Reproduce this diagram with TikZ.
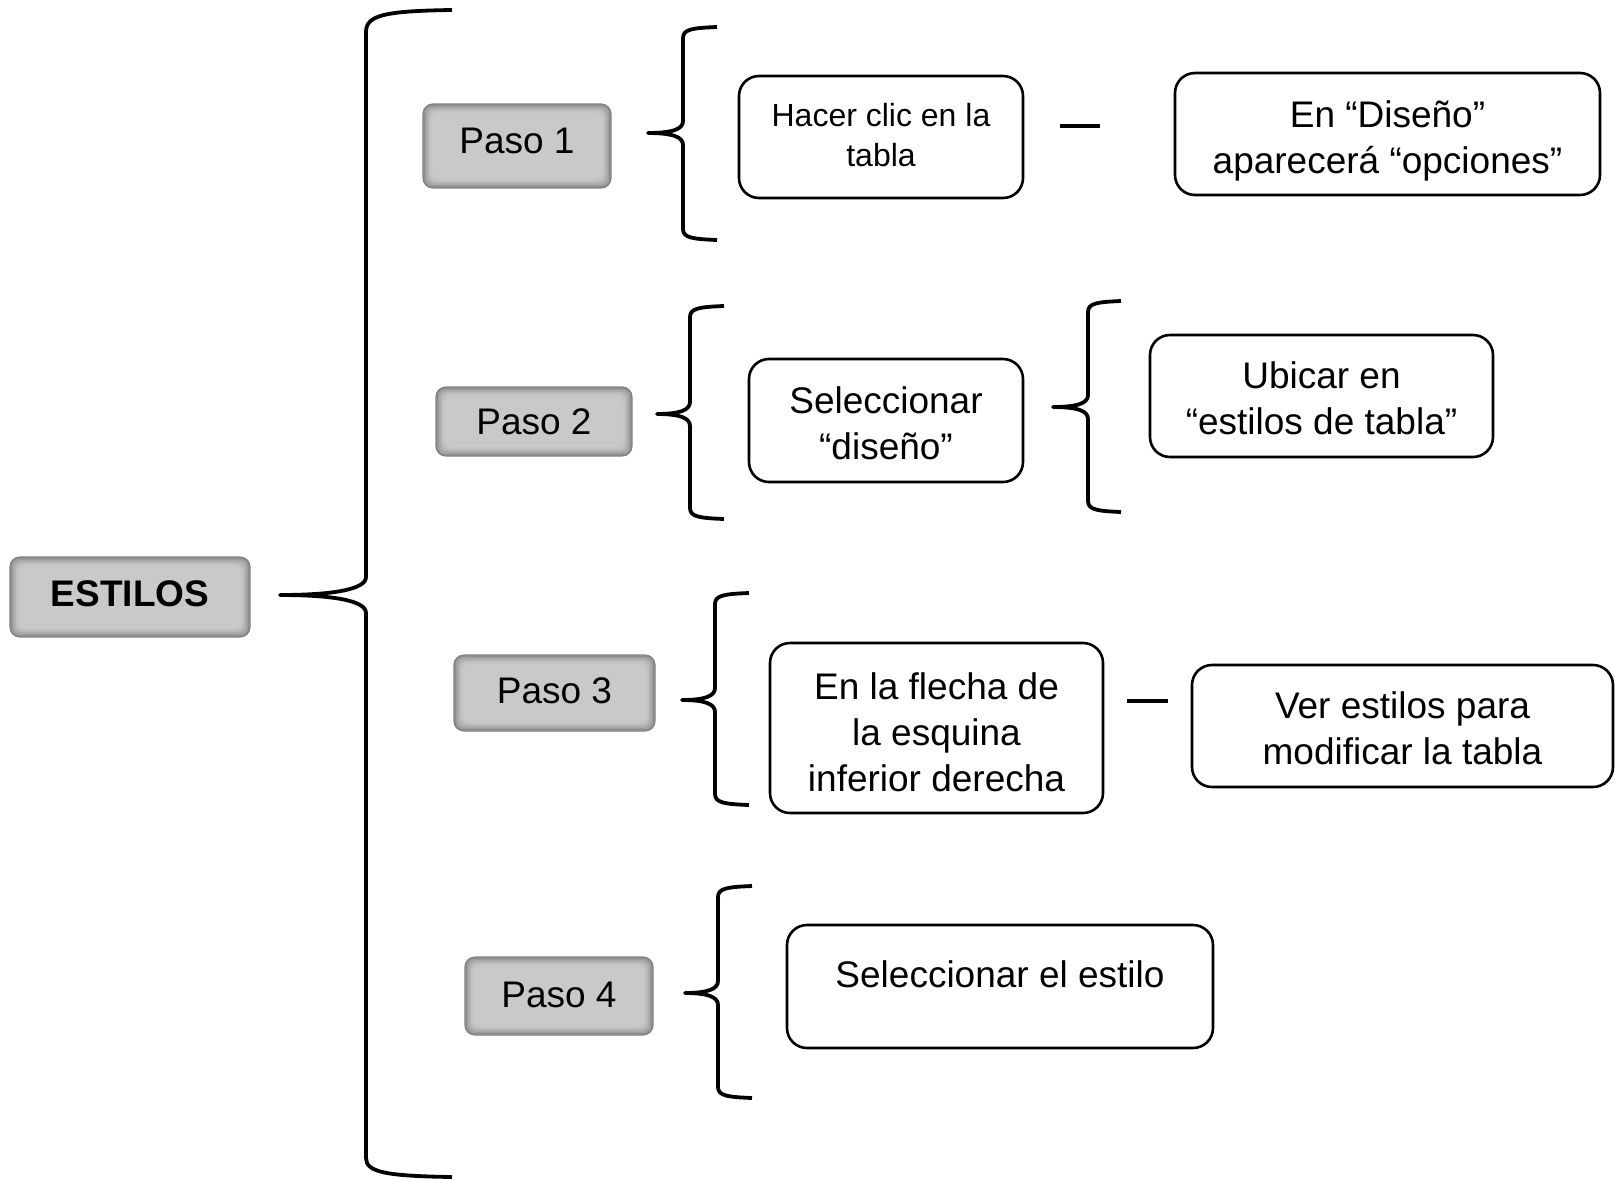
\documentclass[tikz,border=0pt]{standalone}
\usepackage{fontspec}
\setmainfont{Liberation Sans}
\definecolor{boxgray}{HTML}{C9C9C9}
\definecolor{edgegray}{HTML}{808080}
\newcommand{\drawbrace}[6]{% #1 tipx, #2 tipy, #3 vx, #4 top, #5 bottom, #6 endx
  \draw[bracestyle] (#6,#4) .. controls ({#3+10},{#4+1}) and (#3,{#4+2}) .. (#3,{#4+11})
    -- (#3,{#2-12}) .. controls (#3,{#2-4}) and ({#3-10},#2) .. (#1,#2)
    .. controls ({#3-10},#2) and (#3,{#2+4}) .. (#3,{#2+12})
    -- (#3,{#5-11}) .. controls (#3,{#5-2}) and ({#3+10},{#5-1}) .. (#6,#5);}
\newcommand{\shiftedtext}[2]{\raisebox{#1}[\height][\depth]{\begin{tabular}{@{}c@{}}#2\end{tabular}}}
\tikzset{
  pasobox/.style={rectangle, rounded corners=10pt, fill=boxgray, draw=edgegray,
    line width=1.2pt, inner sep=0pt, font=\fontsize{37}{46}\selectfont,
    path picture={
      \foreach \i/\p in {1.2/70,2.6/77,4/84,5.4/90,6.8/95,8.2/98}{
        \draw[draw=boxgray!\p!black, line width=1.6pt, rounded corners=8pt]
          ([shift={(\i pt,-\i pt)}]path picture bounding box.north west) rectangle
          ([shift={(-\i pt,\i pt)}]path picture bounding box.south east);}}},
  whitebox/.style={rectangle, rounded corners=20pt, draw=black, line width=2.6pt,
    fill=white, inner sep=0pt, align=center, font=\fontsize{37}{46}\selectfont},
  bracestyle/.style={line width=3.8pt, line join=round},
  dashline/.style={line width=3.8pt}
}
\begin{document}
\begin{tikzpicture}[x=1pt,y=-1pt]
\useasboundingbox[fill=white] (0,0) rectangle (1615,1179);

% gray boxes
\node[pasobox, font=\fontsize{37}{46}\selectfont\bfseries, minimum width=240pt, minimum height=80pt] (estilos) at (130,597) {\shiftedtext{0pt}{ESTILOS}};
\node[pasobox, minimum width=188pt, minimum height=84pt] (p1) at (517,146) {\shiftedtext{2pt}{Paso 1}};
\node[pasobox, minimum width=196pt, minimum height=69pt] (p2) at (534,421.5) {\shiftedtext{-4pt}{Paso 2}};
\node[pasobox, minimum width=201pt, minimum height=76pt] (p3) at (554.5,693) {\shiftedtext{-1pt}{Paso 3}};
\node[pasobox, minimum width=188pt, minimum height=78pt] (p4) at (559,996) {\shiftedtext{-2pt}{Paso 4}};

% white boxes
\node[whitebox, minimum width=284pt, minimum height=122pt, font=\fontsize{32}{40}\selectfont] (hacer) at (881,137) {\shiftedtext{-1pt}{Hacer clic en la\\tabla}};
\node[whitebox, minimum width=425pt, minimum height=122pt] (diseno) at (1387.5,134) {\shiftedtext{-7pt}{En “Diseño”\\aparecerá “opciones”}};
\node[whitebox, minimum width=274pt, minimum height=123pt] (seldis) at (886,420.5) {\shiftedtext{-7pt}{Seleccionar\\“diseño”}};
\node[whitebox, minimum width=343pt, minimum height=122pt] (ubicar) at (1321.5,396) {\shiftedtext{-6.5pt}{Ubicar en\\“estilos de tabla”}};
\node[whitebox, minimum width=333pt, minimum height=170pt] (flecha) at (936.5,728) {\shiftedtext{-8pt}{En la flecha de\\la esquina\\inferior derecha}};
\node[whitebox, minimum width=421pt, minimum height=122pt] (ver) at (1402.5,726) {\shiftedtext{-6.5pt}{Ver estilos para\\modificar la tabla}};
\node[whitebox, minimum width=426pt, minimum height=123pt] (selest) at (1000,986.5) {\shiftedtext{8pt}{Seleccionar el estilo}};

% big brace
\coordinate (bigtip) at (280,595);
\draw[bracestyle] (452,10) .. controls (385,11) and (366,15) .. (366,32)
  -- (366,577) .. controls (366,590) and (330,595) .. (bigtip)
  .. controls (330,595) and (366,600) .. (366,613)
  -- (366,1158) .. controls (366,1172) and (385,1176) .. (452,1177);

% small braces
\drawbrace{648}{133}{683}{27}{240}{717}
\drawbrace{657}{414}{690}{306}{519}{724}
\drawbrace{1053}{407}{1088}{301}{512}{1121}
\drawbrace{682}{700}{715}{593}{805}{749}
\drawbrace{685}{993}{718}{886}{1098}{752}

% dashes
\coordinate (d1a) at (1060,126);
\coordinate (d1b) at (1100,126);
\draw[dashline] (d1a) -- (d1b);
\coordinate (d3a) at (1127,701);
\coordinate (d3b) at (1168,701);
\draw[dashline] (d3a) -- (d3b);
\end{tikzpicture}
\end{document}
